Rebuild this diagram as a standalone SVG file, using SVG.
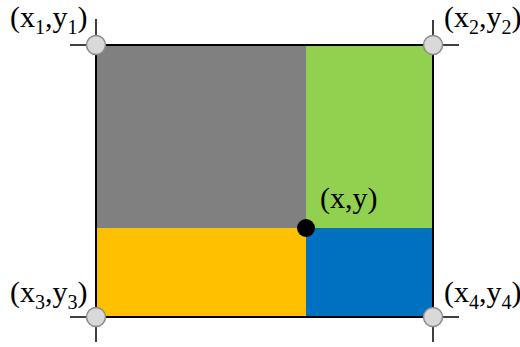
<svg xmlns="http://www.w3.org/2000/svg" width="520" height="347" viewBox="0 0 520 347">
<style>
.lbl{font-family:"Liberation Serif","Times New Roman",serif;font-size:30px;fill:#000}
.sub{font-size:20px}
.tick{stroke:#000;stroke-width:1.5}
.corner{fill:#d9d9d9;stroke:#8c8c8c;stroke-width:1.5}
</style>
<rect width="520" height="347" fill="#fff"/>
<g id="regions">
<rect x="96" y="45" width="210" height="183" fill="#808080"/>
<rect x="306" y="45" width="127" height="183" fill="#92d050"/>
<rect x="96" y="228" width="210" height="89" fill="#ffc000"/>
<rect x="306" y="228" width="127" height="89" fill="#0070c0"/>
<rect x="96" y="45" width="337" height="272" fill="none" stroke="#000" stroke-width="2"/>
</g>
<g id="connectors">
<line class="tick" x1="70" y1="45" x2="96" y2="45"/>
<line class="tick" x1="96" y1="19" x2="96" y2="45"/>
<line class="tick" x1="433" y1="20" x2="433" y2="45"/>
<line class="tick" x1="433" y1="45" x2="459" y2="45"/>
<line class="tick" x1="70" y1="317" x2="96" y2="317"/>
<line class="tick" x1="96" y1="317" x2="96" y2="342"/>
<line class="tick" x1="433" y1="317" x2="459" y2="317"/>
<line class="tick" x1="433" y1="317" x2="433" y2="342"/>
</g>
<g id="p1"><circle class="corner" cx="96" cy="45" r="9.5"/><text class="lbl" x="10" y="27">(x<tspan class="sub" dy="7">1</tspan><tspan dy="-7">,y</tspan><tspan class="sub" dy="7">1</tspan><tspan dy="-7">)</tspan></text></g>
<g id="p2"><circle class="corner" cx="433" cy="45" r="9.5"/><text class="lbl" x="444" y="27">(x<tspan class="sub" dy="7">2</tspan><tspan dy="-7">,y</tspan><tspan class="sub" dy="7">2</tspan><tspan dy="-7">)</tspan></text></g>
<g id="p3"><circle class="corner" cx="96" cy="317" r="9.5"/><text class="lbl" x="10" y="302">(x<tspan class="sub" dy="7">3</tspan><tspan dy="-7">,y</tspan><tspan class="sub" dy="7">3</tspan><tspan dy="-7">)</tspan></text></g>
<g id="p4"><circle class="corner" cx="433" cy="317" r="9.5"/><text class="lbl" x="444" y="302">(x<tspan class="sub" dy="7">4</tspan><tspan dy="-7">,y</tspan><tspan class="sub" dy="7">4</tspan><tspan dy="-7">)</tspan></text></g>
<g id="p"><circle cx="306" cy="228" r="9" fill="#000"/><text class="lbl" x="320" y="208">(x,y)</text></g>
</svg>
